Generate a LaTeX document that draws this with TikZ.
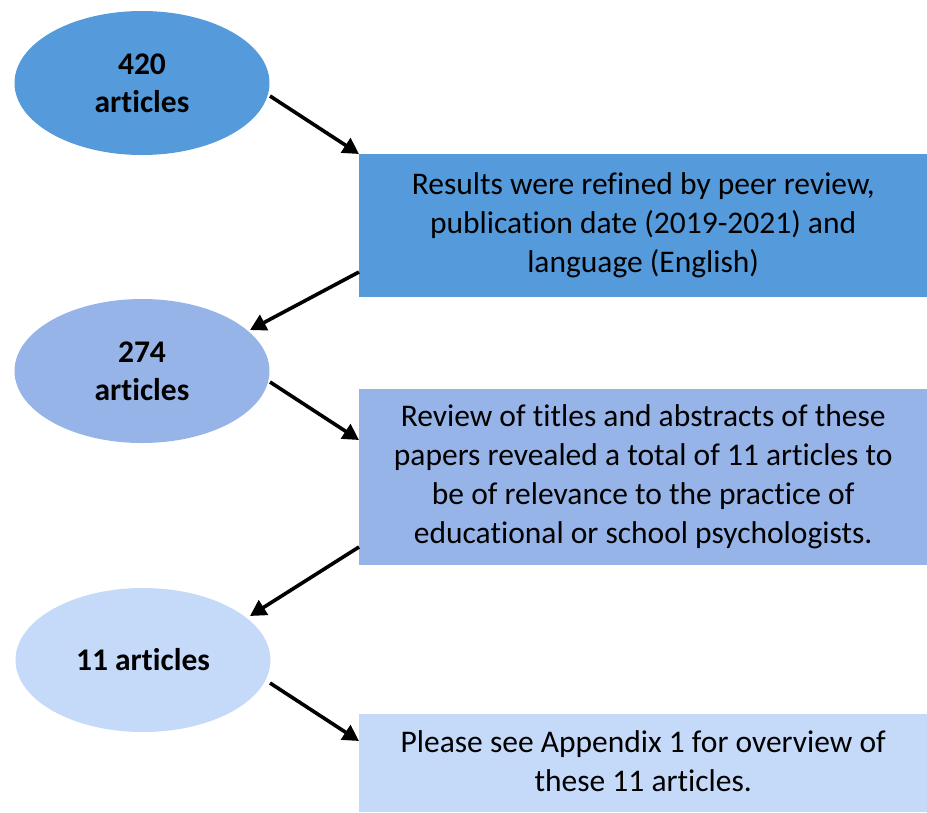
\documentclass[tikz,border=0pt]{standalone}
\usepackage{fontspec}
\setmainfont{Carlito}[Ligatures=NoCommon]
\usetikzlibrary{shapes.geometric,arrows.meta}
\definecolor{blueA}{HTML}{559BDB}
\definecolor{blueB}{HTML}{97B4E8}
\definecolor{blueC}{HTML}{C5D9F8}
\tikzset{
  countnode/.style={ellipse, draw=none, minimum width=255pt, minimum height=144pt,
    inner sep=0pt, align=center, font=\fontsize{31.5}{38}\selectfont\bfseries},
  infobox/.style={rectangle, draw=none, anchor=north west, inner sep=0pt,
    align=center, font=\fontsize{31.5}{39}\selectfont},
  flow/.style={draw=black, line width=3.6pt, -{Triangle[length=16pt,width=17pt]}}
}
\begin{document}
\begin{tikzpicture}[x=1pt,y=-1pt]
\useasboundingbox (0,0) rectangle (927,812);
% counts of articles
\node[countnode, fill=blueA] (e1) at (142,83) {420\\articles};
\node[countnode, fill=blueB] (e2) at (142,371) {274\\articles};
\node[countnode, fill=blueC] (e3) at (143,660) {11 articles};
% screening steps
\node[infobox, fill=blueA, minimum width=568pt, minimum height=143pt] (b1) at (359,154)
  {Results were refined by peer review,\\publication date (2019-2021) and\\language (English)};
\node[infobox, fill=blueB, minimum width=568pt, minimum height=176pt] (b2) at (359,389)
  {Review of titles and abstracts of these\\papers revealed a total of 11 articles to\\be of relevance to the practice of\\educational or school psychologists.};
\node[infobox, fill=blueC, minimum width=568pt, minimum height=98pt] (b3) at (359,714)
  {Please see Appendix 1 for overview of\\these 11 articles.\vphantom{y}};
% connectors
\coordinate (a1s) at (270,96);
\coordinate (a2e) at (250,330);
\coordinate (a3s) at (270,382);
\coordinate (a4e) at (250,616);
\coordinate (a5s) at (270,683);
\draw[flow] (a1s) -- (b1.north west);
\draw[flow] (b1.north west |- 0,272) -- (a2e);
\draw[flow] (a3s) -- (b2.north west |- 0,440);
\draw[flow] (b2.north west |- 0,547) -- (a4e);
\draw[flow] (a5s) -- (b3.north west |- 0,741);
\end{tikzpicture}
\end{document}
